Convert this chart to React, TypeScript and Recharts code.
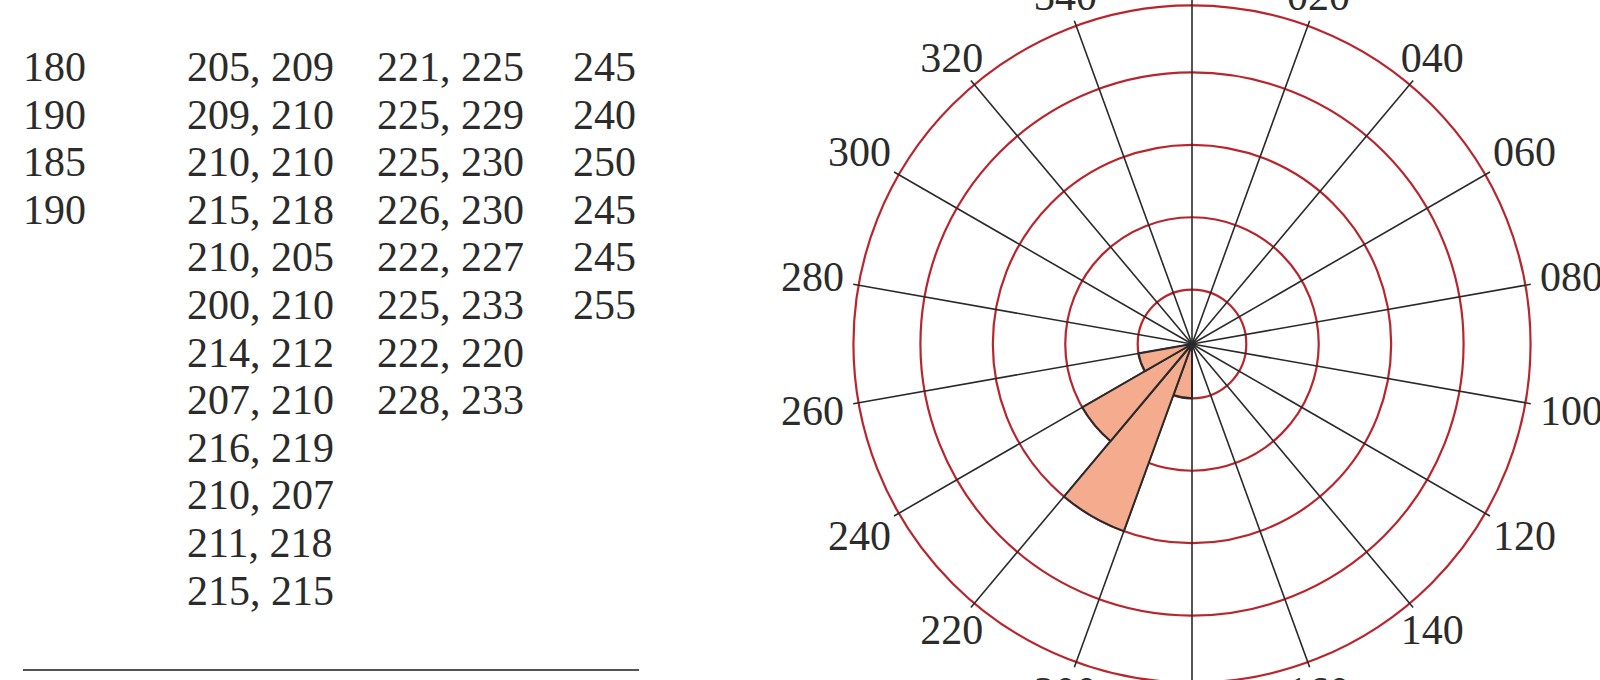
import {
  RadialBarChart,
  RadialBar,
  PolarAngleAxis,
  PolarRadiusAxis,
  PolarGrid,
} from "recharts";

// table of measured bearings (left part of the figure)
const colA = ["180", "190", "185", "190"];
const colB = [
  "205, 209",
  "209, 210",
  "210, 210",
  "215, 218",
  "210, 205",
  "200, 210",
  "214, 212",
  "207, 210",
  "216, 219",
  "210, 207",
  "211, 218",
  "215, 215",
];
const colC = [
  "221, 225",
  "225, 229",
  "225, 230",
  "226, 230",
  "222, 227",
  "225, 233",
  "222, 220",
  "228, 233",
];
const colD = ["245", "240", "250", "245", "245", "255"];

// rose diagram: 20° bins, radius read in ring units
const binStarts = [0, 20, 40, 60, 80, 100, 120, 140, 160, 180, 200, 220, 240, 260, 280, 300, 320, 340];
const binFreq = [0, 0, 0, 0, 0, 0, 0, 0, 0, 3, 11, 7, 3, 0, 0, 0, 0, 0];
const ringLevels = [3, 7, 11, 15, 18.7];
// bearings of the spokes/labels (360 is drawn as 000)
const compassTicks = [20, 40, 60, 80, 100, 120, 140, 160, 180, 200, 220, 240, 260, 280, 300, 320, 340, 360];

const roseData = binStarts.map((start, i) => ({
  bin: `${start}-${start + 20}`,
  end: start + 20,
  freq: binFreq[i],
}));

const serif = '"Liberation Serif", "Times New Roman", serif';
const ink = "#2b2b2b";

// label box sits just outside the outer ring, on the spoke direction
function CompassTick(props: any) {
  const { x, y, payload } = props;
  const rad = (payload.coordinate * Math.PI) / 180;
  const ux = Math.cos(rad);
  const uy = Math.sin(rad);
  const halfW = 31;
  const halfH = 15;
  const edge = Math.min(
    Math.abs(ux) > 1e-6 ? halfW / Math.abs(ux) : Infinity,
    Math.abs(uy) > 1e-6 ? halfH / Math.abs(uy) : Infinity
  );
  const extra = 2 + edge;
  return (
    <text
      x={x + extra * ux}
      y={y - extra * uy}
      textAnchor="middle"
      dominantBaseline="central"
      fontFamily={serif}
      fontSize={42}
      fill={ink}
    >
      {String(payload.value % 360).padStart(3, "0")}
    </text>
  );
}

function Column({ left, rows }: { left: number; rows: string[] }) {
  return (
    <div
      style={{
        position: "absolute",
        left,
        top: 44,
        fontFamily: serif,
        fontSize: 42,
        lineHeight: "47.6px",
        color: ink,
        whiteSpace: "pre",
      }}
    >
      {rows.map((r, i) => (
        <div key={i}>{r}</div>
      ))}
    </div>
  );
}

export default function App() {
  return (
    <div
      style={{
        position: "absolute",
        left: 0,
        top: 0,
        width: 1600,
        height: 680,
        overflow: "hidden",
        background: "#fff",
      }}
    >
      <Column left={23} rows={colA} />
      <Column left={187} rows={colB} />
      <Column left={377} rows={colC} />
      <Column left={573} rows={colD} />
      <div
        style={{
          position: "absolute",
          left: 23,
          top: 669,
          width: 616,
          height: 2,
          background: "#555",
        }}
      />
      <div style={{ position: "absolute", left: 742, top: -56 }}>
        <RadialBarChart
          width={900}
          height={800}
          cx={450}
          cy={400}
          innerRadius={0}
          outerRadius={344}
          startAngle={70}
          endAngle={-290}
          data={roseData}
          layout="centric"
          barCategoryGap={0}
          barGap={0}
          margin={{ top: 0, right: 0, bottom: 0, left: 0 }}
        >
          <PolarGrid
            gridType="circle"
            radialLines={false}
            angleAxisId="compass"
            stroke="#b8252c"
            strokeWidth={2.2}
          />
          <PolarGrid
            gridType="circle"
            polarRadius={[]}
            angleAxisId="compass"
            stroke="#2a2a2a"
            strokeWidth={1.6}
          />
          <PolarAngleAxis
            angleAxisId="bins"
            type="category"
            dataKey="bin"
            tick={false}
            axisLine={false}
            tickLine={false}
          />
          <PolarAngleAxis
            angleAxisId="compass"
            type="number"
            dataKey="end"
            domain={[20, 380]}
            ticks={compassTicks}
            tick={(p: any) => <CompassTick {...p} />}
            axisLine={false}
            tickLine={false}
          />
          <PolarRadiusAxis
            type="number"
            domain={[0, 18.7]}
            ticks={ringLevels}
            tick={false}
            axisLine={false}
          />
          <RadialBar
            angleAxisId="bins"
            dataKey="freq"
            fill="#f5ab8e"
            stroke="#2a2a2a"
            strokeWidth={2}
            isAnimationActive={false}
          />
        </RadialBarChart>
      </div>
    </div>
  );
}
